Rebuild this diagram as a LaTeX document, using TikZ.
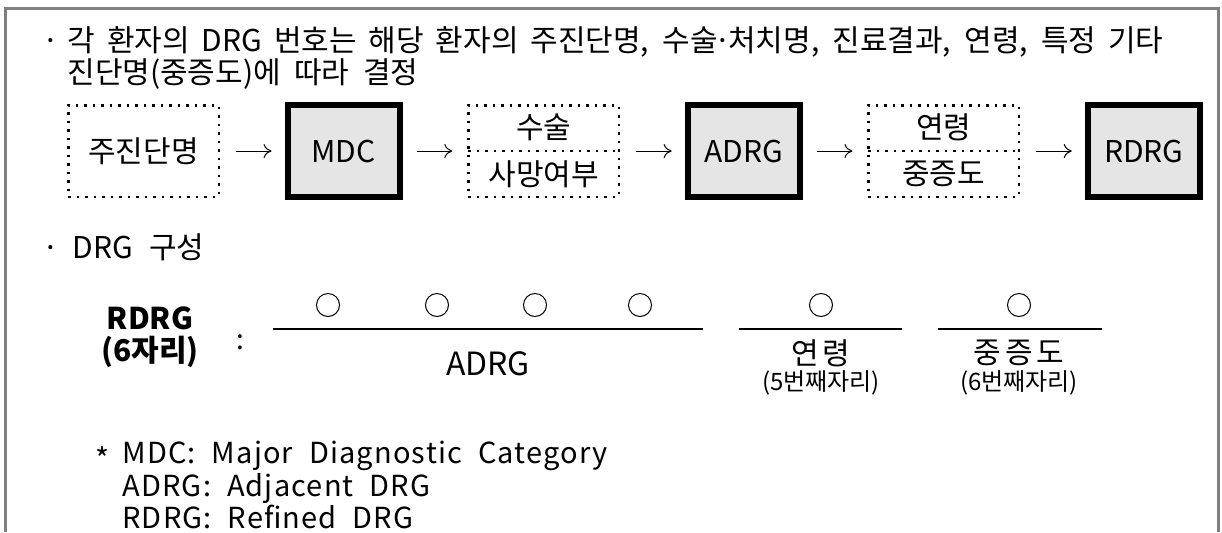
\documentclass[tikz,border=0pt]{standalone}
\usepackage{fontspec}
\setmainfont{Noto Sans CJK KR}
\usepackage{tikz}
\usetikzlibrary{positioning, arrows.meta}

\newcommand{\mdot}{\makebox[0.35em]{·}}

\begin{document}
\begin{tikzpicture} [ x=0.5pt, y=-0.5pt
                    , node distance=34.4pt
                    , frame/.style={draw=black!50, line width=1.5pt}
                    , dotbox/.style={draw, dotted, line width=1.25pt, dash pattern=on 1.25pt off 3pt,
                                     minimum width=75.25pt, minimum height=45.75pt, outer sep=0pt,
                                     font=\fontsize{15}{17}\selectfont}
                    , solidbox/.style={draw, fill=black!10, line width=3pt,
                                       minimum width=56pt, minimum height=46pt, outer sep=0pt,
                                       font=\fontsize{15}{17}\selectfont}
                    , halflabel/.style={inner sep=0pt, minimum height=22.8pt,
                                        font=\fontsize{15}{17}\selectfont}
                    , flow/.style={-{To[length=4pt, width=7pt]}, line width=0.5pt,
                                   shorten <=8.5pt, shorten >=8pt}
                    , slot/.style={line width=0.75pt}
                    , digit/.style={draw, circle, line width=0.5pt, minimum size=11.5pt, inner sep=0pt}
                    , head/.style={inner sep=0pt, anchor=base west, font=\fontsize{15}{17}\selectfont}
                    ]

  \useasboundingbox (0,0) rectangle (1222,532);

  % --- Frame -----------------------------------------------------------------
  \draw [frame] (5,532) -- (5,8) -- (1218,8) -- (1218,532);
  % ---------------------------------------------------------------------------

  % --- Heading ---------------------------------------------------------------
  \node [ head
        ]
        (H1) at (45,51) {\makebox[559pt][s]{\mdot{} 각 환자의 DRG 번호는 해당 환자의 주진단명, 수술\mdot{}처치명, 진료결과, 연령, 특정 기타}};

  \node [ head
        ]
        (H2) at (67,83) {\spaceskip=0.45em 진단명(중증도)에 따라 결정};
  % ---------------------------------------------------------------------------

  % --- Flow ------------------------------------------------------------------
  \node [ dotbox
        ]
        (DX) at (143.5,151) {주진단명};

  \node [ solidbox
        , right=of DX
        ]
        (MDC) {MDC};

  \node [ dotbox
        , right=of MDC
        ]
        (OP) {};

  \node [ solidbox
        , right=of OP
        ]
        (ADRG) {ADRG};

  \node [ dotbox
        , right=of ADRG
        ]
        (AGE) {};

  \node [ solidbox
        , right=of AGE
        ]
        (RDRG) {RDRG};

  \draw [dotted, line width=1.25pt, dash pattern=on 1.25pt off 3pt] (OP.west) -- (OP.east);
  \draw [dotted, line width=1.25pt, dash pattern=on 1.25pt off 3pt] (AGE.west) -- (AGE.east);

  \node [halflabel, above=0pt of OP.center] (OPa) {수술};
  \node [halflabel, below=0pt of OP.center] (OPb) {사망여부};
  \node [halflabel, above=0pt of AGE.center] (AGEa) {연령};
  \node [halflabel, below=0pt of AGE.center] (AGEb) {중증도};

  \draw [flow] (DX) -- (MDC);
  \draw [flow] (MDC) -- (OP);
  \draw [flow] (OP) -- (ADRG);
  \draw [flow] (ADRG) -- (AGE);
  \draw [flow] (AGE) -- (RDRG);
  % ---------------------------------------------------------------------------

  % --- DRG Layout ------------------------------------------------------------
  \node [ head
        ]
        (H3) at (45,258) {\spaceskip=0.55em \mdot{} DRG 구성};

  \node [ align=center
        , font=\fontsize{15}{16}\bfseries\selectfont
        ]
        (CODE) at (150,337) {RDRG\\(6자리)};

  \node [font=\fontsize{14}{16}\selectfont] (COLON) at (240,342) {:};

  \foreach \x/\n in {328/1, 437/2, 535/3, 640/4, 821/5, 1019/6}
    \node [digit] (c\n) at (\x,305) {};

  \coordinate (s1a) at (273,329);  \coordinate (s1b) at (703,329);
  \coordinate (s2a) at (739,329);  \coordinate (s2b) at (902,329);
  \coordinate (s3a) at (938,329);  \coordinate (s3b) at (1102,329);
  \draw [slot] (s1a) -- (s1b);
  \draw [slot] (s2a) -- (s2b);
  \draw [slot] (s3a) -- (s3b);

  \node [font=\fontsize{16}{18}\selectfont] (LA) at (488,364) {ADRG};
  \node [font=\fontsize{15}{17}\selectfont] (LB) at (821,353) {연\hspace{2pt}령};
  \node [font=\fontsize{12}{14}\selectfont] (LBs) at (821,383) {(5번째자리)};
  \node [font=\fontsize{15}{17}\selectfont] (LC) at (1019,353) {중\hspace{2pt}증\hspace{2pt}도};
  \node [font=\fontsize{12}{14}\selectfont] (LCs) at (1019,383) {(6번째자리)};
  % ---------------------------------------------------------------------------

  % --- Notes -----------------------------------------------------------------
  \node [ head
        ]
        (STAR) at (95,465) {\raisebox{-2.5pt}{*}};

  \node [ anchor=north west
        , inner sep=0pt
        , align=left
        , font=\fontsize{14.5}{14.6}\selectfont\addfontfeatures{LetterSpace=4}
        ]
        (NOTE) at (122,441) {\spaceskip=0.55em MDC: Major Diagnostic Category\\
                             \spaceskip=0.55em ADRG: Adjacent DRG\\
                             \spaceskip=0.55em RDRG: Refined DRG};
  % ---------------------------------------------------------------------------
\end{tikzpicture}
\end{document}
